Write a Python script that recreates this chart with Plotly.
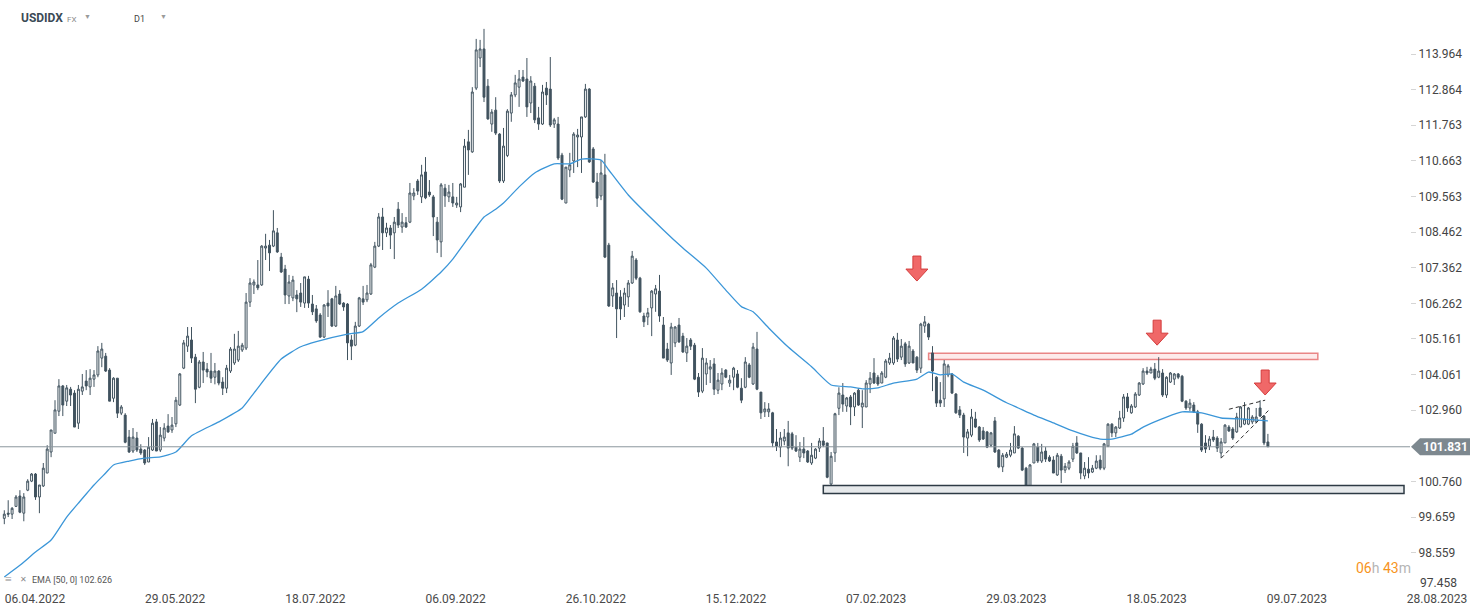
import plotly.graph_objects as go

# ---------------- data ----------------
opens = [
    99.62, 99.78, 99.75, 99.99, 100.31, 99.78, 100.49, 100.77, 100.99, 100.28,
    100.62, 101.02, 101.67, 102.25, 102.93, 103.71, 103.24, 103.61, 103.49, 102.56,
    103.55, 103.86, 103.68, 103.92, 104.05, 104.57, 104.63, 104.20, 103.33, 103.95,
    102.87, 102.81, 102.13, 101.70, 102.10, 101.76, 101.73, 101.36, 101.73, 102.60,
    101.73, 102.10, 102.47, 102.35, 102.54, 103.12, 104.26, 104.94, 105.13, 104.60,
    103.67, 104.45, 104.23, 104.17, 103.98, 104.17, 103.83, 103.64, 104.17, 104.42,
    104.51, 104.82, 104.88, 106.30, 106.83, 106.83, 106.83, 107.97, 108.06, 108.03,
    108.44, 107.69, 107.32, 106.49, 106.43, 106.52, 106.58, 106.27, 107.01, 106.24,
    106.09, 105.90, 105.22, 106.27, 106.40, 105.56, 106.55, 106.27, 106.24, 105.13,
    104.97, 105.56, 106.40, 106.37, 106.55, 107.38, 108.03, 108.93, 108.44, 108.59,
    108.44, 109.17, 108.62, 108.75, 108.77, 109.58, 110.04, 109.55, 110.32, 109.70,
    109.55, 108.77, 108.16, 109.82, 109.55, 109.55, 109.30, 109.24, 109.85, 111.25,
    110.94, 112.91, 113.84, 114.12, 112.97, 111.80, 112.23, 111.49, 110.04, 110.83,
    112.14, 112.70, 112.94, 113.25, 113.19, 112.45, 112.97, 111.99, 111.80, 112.91,
    112.88, 111.80, 111.80, 110.84, 109.36, 110.38, 110.66, 111.40, 111.40, 112.02,
    112.88, 111.03, 110.01, 109.58, 110.23, 108.06, 106.49, 106.58, 106.46, 106.21,
    106.46, 106.89, 107.60, 107.04, 105.87, 105.84, 106.12, 106.55, 106.64, 105.59,
    104.85, 104.42, 105.04, 105.59, 105.25, 104.73, 105.13, 104.97, 103.98, 103.55,
    104.08, 104.23, 104.39, 103.58, 103.77, 104.20, 103.80, 103.98, 104.08, 103.64,
    103.67, 104.36, 103.77, 104.85, 103.52, 102.91, 102.91, 102.88, 101.98, 101.82,
    102.01, 102.26, 102.23, 101.82, 101.51, 101.76, 101.70, 101.33, 101.48, 101.79,
    102.01, 101.95, 100.68, 101.64, 103.02, 103.43, 103.09, 103.37, 103.06, 103.58,
    103.06, 103.06, 103.77, 104.11, 103.98, 103.80, 103.98, 104.42, 104.42, 105.13,
    104.60, 105.01, 104.42, 104.79, 104.60, 104.26, 105.56, 105.62, 104.73, 103.98,
    103.27, 103.31, 104.05, 104.08, 103.46, 102.97, 102.81, 102.10, 102.19, 102.69,
    102.44, 102.32, 102.29, 101.88, 102.63, 101.73, 101.21, 101.51, 101.57, 101.64,
    102.16, 101.79, 101.17, 100.59, 101.33, 101.82, 101.39, 101.70, 101.51, 101.42,
    100.96, 101.54, 101.11, 101.17, 101.45, 101.95, 101.64, 100.93, 101.14, 101.05,
    101.17, 101.42, 101.17, 101.85, 102.53, 102.26, 102.41, 102.72, 103.37, 102.88,
    103.06, 103.43, 103.77, 104.17, 104.11, 104.23, 103.98, 104.11, 103.43, 103.83,
    103.92, 104.08, 104.01, 103.24, 103.03, 103.12, 102.91, 102.53, 101.95, 101.85,
    102.13, 102.10, 101.64, 101.95, 102.44, 102.38, 102.29, 102.44, 102.53, 102.53,
    102.60, 102.60, 103.03, 102.78, 101.98,
]
highs = [
    99.87, 100.18, 99.97, 100.34, 100.49, 100.40, 100.83, 101.02, 101.02, 100.65,
    101.33, 101.88, 102.35, 103.27, 103.92, 103.74, 103.74, 103.68, 103.58, 103.74,
    104.08, 104.20, 104.23, 104.20, 104.94, 105.04, 104.73, 104.26, 103.98, 103.95,
    103.12, 102.87, 102.35, 102.41, 102.29, 101.91, 101.76, 102.13, 102.69, 102.69,
    102.44, 102.56, 102.84, 102.75, 103.37, 104.11, 105.13, 105.53, 105.53, 104.70,
    104.51, 104.76, 104.42, 104.73, 104.42, 104.20, 103.98, 104.36, 104.91, 105.32,
    105.41, 105.04, 106.58, 107.04, 107.00, 107.60, 108.06, 108.41, 108.22, 109.14,
    108.59, 107.82, 107.45, 107.14, 107.11, 106.67, 106.89, 107.08, 107.11, 106.52,
    106.21, 105.96, 106.24, 106.67, 106.43, 106.80, 106.67, 106.30, 106.27, 105.28,
    105.69, 106.46, 106.80, 106.83, 107.51, 108.16, 109.05, 109.21, 108.75, 108.68,
    108.93, 109.39, 109.05, 108.93, 109.98, 109.82, 110.10, 110.54, 110.78, 110.07,
    109.61, 108.93, 109.98, 109.95, 109.92, 109.98, 109.55, 109.98, 111.34, 111.62,
    112.94, 114.43, 114.40, 114.74, 113.19, 112.26, 112.63, 111.52, 111.68, 112.26,
    112.79, 113.32, 113.47, 113.47, 113.84, 113.28, 113.07, 112.33, 113.01, 113.10,
    113.87, 111.99, 112.02, 110.91, 110.47, 110.91, 111.55, 111.65, 112.02, 113.04,
    112.91, 111.09, 110.29, 110.69, 110.88, 108.13, 106.89, 106.98, 106.67, 106.74,
    106.98, 107.88, 107.66, 107.08, 105.97, 106.12, 106.67, 106.83, 107.14, 105.84,
    105.04, 105.66, 105.56, 105.81, 105.35, 105.19, 105.19, 105.04, 104.11, 104.88,
    104.57, 104.51, 104.57, 104.11, 104.26, 104.23, 104.05, 104.30, 104.20, 103.95,
    104.60, 104.42, 105.04, 105.38, 103.52, 103.21, 103.18, 102.91, 102.38, 102.29,
    102.38, 102.63, 102.29, 102.19, 101.98, 102.13, 101.73, 101.95, 101.79, 102.10,
    102.44, 101.95, 101.67, 102.88, 103.67, 103.80, 103.37, 103.43, 103.52, 103.64,
    103.58, 103.89, 104.14, 104.57, 104.05, 104.17, 104.54, 104.73, 105.25, 105.35,
    105.16, 105.07, 105.10, 104.85, 104.63, 105.66, 105.87, 105.66, 104.94, 104.01,
    103.83, 104.51, 104.39, 104.11, 103.49, 103.09, 102.88, 102.38, 103.00, 102.91,
    102.47, 102.44, 102.32, 102.29, 102.75, 101.76, 101.64, 101.67, 101.95, 102.47,
    102.19, 101.82, 101.21, 101.30, 101.95, 101.95, 101.92, 101.82, 101.57, 101.54,
    101.64, 101.61, 101.33, 101.42, 101.95, 102.16, 101.64, 101.36, 101.51, 101.27,
    101.57, 101.57, 101.95, 102.56, 102.56, 102.47, 102.94, 103.46, 103.49, 103.15,
    103.52, 103.83, 104.26, 104.30, 104.30, 104.42, 104.60, 104.23, 104.01, 104.14,
    104.11, 104.11, 104.05, 103.27, 103.31, 103.21, 102.97, 102.56, 102.19, 102.16,
    102.35, 102.16, 102.10, 102.53, 102.50, 102.44, 102.88, 103.09, 103.21, 103.06,
    102.81, 103.03, 103.27, 102.81, 102.23,
]
lows = [
    99.44, 99.66, 99.60, 99.97, 99.78, 99.53, 100.46, 100.74, 100.19, 99.78,
    100.59, 101.02, 101.51, 102.25, 102.78, 102.78, 103.09, 103.09, 102.44, 102.38,
    103.43, 103.58, 103.43, 103.68, 103.98, 104.29, 104.14, 103.24, 103.21, 102.72,
    102.81, 101.94, 101.64, 101.64, 101.67, 101.58, 101.27, 101.36, 101.70, 101.70,
    101.67, 102.00, 102.26, 102.26, 102.44, 103.09, 104.23, 104.76, 104.42, 103.18,
    103.64, 103.80, 103.98, 103.80, 103.76, 103.73, 103.43, 103.49, 104.11, 104.36,
    104.45, 104.76, 104.82, 106.15, 106.55, 106.67, 106.80, 107.60, 107.26, 108.00,
    107.82, 107.20, 106.24, 106.24, 106.33, 105.99, 106.15, 106.12, 106.12, 105.90,
    105.66, 105.19, 105.19, 105.84, 105.53, 105.53, 106.21, 106.03, 104.51, 104.51,
    104.94, 105.53, 106.21, 106.30, 106.52, 107.35, 108.00, 107.91, 108.31, 107.94,
    107.63, 108.59, 108.44, 108.59, 108.74, 109.45, 109.61, 109.36, 109.48, 109.55,
    108.34, 107.82, 107.69, 109.24, 109.39, 109.24, 109.21, 109.08, 109.85, 110.23,
    110.91, 112.85, 113.56, 112.48, 111.93, 111.56, 111.46, 109.98, 109.98, 110.78,
    111.87, 112.63, 112.33, 113.10, 112.02, 112.14, 111.83, 111.62, 111.77, 112.39,
    111.71, 111.68, 110.69, 109.45, 109.36, 110.16, 110.29, 110.47, 110.29, 111.99,
    110.60, 109.98, 109.24, 109.45, 107.66, 106.15, 106.15, 105.19, 105.75, 105.84,
    106.15, 106.86, 106.98, 105.97, 105.53, 105.59, 105.25, 106.00, 105.69, 104.57,
    104.45, 104.05, 104.91, 105.04, 104.73, 104.45, 104.82, 103.89, 103.37, 103.49,
    103.74, 103.80, 103.43, 103.46, 103.58, 103.95, 103.68, 103.58, 103.64, 103.18,
    103.64, 103.95, 103.74, 103.58, 102.69, 102.75, 102.75, 101.82, 101.70, 101.51,
    101.88, 101.23, 101.73, 101.67, 101.36, 101.48, 101.33, 101.27, 101.45, 101.67,
    101.82, 100.86, 100.65, 101.36, 102.81, 102.91, 102.91, 102.50, 102.78, 103.09,
    102.41, 103.06, 103.49, 103.77, 103.71, 103.80, 103.95, 104.36, 104.36, 104.45,
    104.51, 104.30, 104.39, 104.42, 104.11, 104.11, 105.35, 105.13, 103.55, 103.06,
    103.06, 103.06, 103.98, 103.46, 102.85, 102.72, 101.64, 101.54, 102.13, 102.41,
    101.98, 102.04, 101.79, 101.82, 101.64, 101.17, 101.05, 101.48, 101.51, 101.64,
    101.76, 101.08, 100.43, 100.43, 101.33, 101.33, 101.33, 101.36, 101.36, 101.02,
    100.93, 100.71, 101.02, 101.11, 101.36, 101.61, 100.83, 100.83, 100.86, 101.02,
    101.14, 101.11, 101.11, 101.82, 102.13, 102.13, 102.38, 102.60, 102.91, 102.85,
    103.03, 103.40, 103.74, 104.05, 104.11, 103.89, 103.95, 103.37, 103.34, 103.80,
    103.74, 103.92, 103.21, 102.97, 102.94, 102.88, 102.26, 101.67, 101.64, 101.73,
    101.98, 101.67, 101.48, 101.95, 102.29, 102.04, 102.26, 102.44, 102.50, 102.50,
    102.53, 102.56, 102.75, 101.88, 101.83,
]
closes = [
    99.75, 99.75, 99.93, 100.28, 99.81, 100.28, 100.77, 100.99, 100.28, 100.65,
    101.17, 101.76, 102.35, 102.97, 103.71, 103.12, 103.65, 103.43, 102.44, 103.61,
    103.68, 103.71, 103.95, 104.05, 104.79, 104.85, 104.17, 103.24, 103.95, 102.87,
    103.06, 101.97, 101.67, 102.13, 101.73, 101.64, 101.33, 101.82, 102.56, 101.70,
    102.19, 102.41, 102.29, 102.50, 103.27, 104.08, 105.04, 105.25, 104.57, 103.61,
    104.45, 104.20, 104.14, 103.95, 104.17, 103.80, 103.64, 104.26, 104.85, 104.85,
    104.94, 104.97, 106.30, 106.89, 106.92, 106.74, 108.03, 108.03, 107.82, 108.50,
    107.85, 107.23, 106.52, 106.92, 106.98, 106.40, 106.30, 107.08, 106.27, 106.00,
    105.72, 105.22, 106.21, 106.18, 105.56, 106.49, 106.24, 106.15, 105.04, 104.94,
    105.56, 106.43, 106.30, 106.58, 107.45, 108.03, 108.93, 108.44, 108.59, 108.37,
    108.77, 108.68, 108.77, 108.62, 109.67, 109.67, 109.73, 110.23, 109.52, 109.61,
    108.93, 108.22, 109.92, 109.58, 109.70, 109.36, 109.36, 109.95, 111.12, 111.00,
    112.79, 114.09, 114.12, 112.63, 111.96, 112.17, 111.52, 110.04, 111.12, 112.20,
    112.70, 113.07, 113.19, 113.13, 112.33, 113.13, 111.93, 111.80, 112.79, 112.70,
    111.77, 111.93, 110.75, 109.48, 110.47, 110.54, 111.49, 111.46, 112.02, 112.88,
    110.63, 110.01, 109.51, 110.29, 107.69, 106.18, 106.74, 106.09, 106.09, 106.58,
    106.89, 107.72, 107.04, 106.00, 105.69, 105.97, 106.64, 106.71, 105.87, 104.57,
    104.51, 105.53, 105.53, 105.07, 104.76, 104.94, 104.94, 103.92, 103.52, 104.57,
    104.42, 104.30, 103.61, 103.89, 104.11, 103.98, 103.89, 104.26, 103.67, 103.27,
    104.45, 103.98, 104.91, 103.61, 102.88, 103.00, 103.00, 101.95, 101.85, 102.10,
    102.13, 101.79, 101.79, 101.70, 101.76, 101.64, 101.36, 101.57, 101.76, 102.01,
    101.88, 100.89, 101.54, 102.85, 103.49, 103.15, 103.34, 103.06, 103.49, 103.12,
    103.18, 103.80, 103.95, 103.80, 103.77, 104.11, 104.48, 104.57, 105.19, 104.54,
    104.94, 104.39, 104.94, 104.42, 104.20, 105.62, 105.69, 105.22, 104.17, 103.18,
    103.18, 104.39, 104.33, 103.49, 102.88, 102.81, 102.13, 102.29, 102.75, 102.44,
    102.04, 102.07, 101.82, 102.26, 101.67, 101.21, 101.57, 101.60, 101.73, 102.23,
    101.79, 101.11, 100.59, 101.27, 101.92, 101.39, 101.67, 101.45, 101.39, 101.02,
    101.57, 101.11, 101.23, 101.36, 101.85, 101.64, 101.02, 101.17, 101.02, 101.17,
    101.39, 101.17, 101.92, 102.53, 102.26, 102.44, 102.72, 103.37, 103.03, 103.09,
    103.46, 103.80, 104.17, 104.11, 104.23, 103.95, 104.17, 103.43, 103.98, 104.11,
    104.08, 103.98, 103.24, 103.03, 103.18, 102.91, 102.53, 101.73, 101.76, 102.07,
    102.04, 101.79, 101.98, 102.50, 102.32, 102.10, 102.75, 103.06, 102.69, 103.03,
    102.75, 102.75, 102.78, 101.95, 101.831,
]
bar_index = list(range(len(closes)))

# EMA(50) line as drawn in the reference (bar index, value)
ema_index = [0, 4, 8, 12, 16, 19, 23, 26, 28, 32, 36, 40, 44, 48, 55, 61, 64, 71, 76, 80,
             88, 92, 96, 101, 107, 112, 115, 121, 123, 126, 128, 132, 136, 141, 145, 148,
             153, 155, 160, 169, 174, 180, 185, 189, 192, 196, 201, 207, 212, 217, 220,
             224, 228, 234, 237, 240, 243, 246, 251, 257, 260, 264, 269, 274, 278, 281,
             284, 289, 292, 298, 302, 307, 312, 317, 324]
ema_values = [97.81, 98.17, 98.58, 98.95, 99.66, 100.09, 100.65, 101.02, 101.27, 101.39,
              101.48, 101.52, 101.67, 102.17, 102.60, 103.03, 103.49, 104.54, 104.92, 105.08,
              105.31, 105.39, 105.81, 106.27, 106.70, 107.23, 107.63, 108.62, 108.93, 109.17,
              109.36, 109.86, 110.29, 110.57, 110.57, 110.72, 110.69, 110.38, 109.61, 108.53,
              107.97, 107.35, 106.67, 106.16, 106.00, 105.50, 104.91, 104.30, 103.74, 103.68,
              103.62, 103.65, 103.80, 103.92, 104.14, 104.05, 104.08, 103.83, 103.58, 103.19,
              103.03, 102.81, 102.57, 102.32, 102.16, 102.07, 102.07, 102.22, 102.44, 102.75,
              102.91, 102.88, 102.72, 102.69, 102.63]
ema_last = 102.626
last_price = 101.831

x_tick_labels = ["06.04.2022", "29.05.2022", "18.07.2022", "06.09.2022", "26.10.2022",
                 "15.12.2022", "07.02.2023", "29.03.2023", "18.05.2023", "09.07.2023",
                 "28.08.2023"]
y_tick_values = [98.559, 99.659, 100.760, 102.960, 104.061, 105.161, 106.262,
                 107.362, 108.462, 109.563, 110.663, 111.763, 112.864, 113.964]
y_bottom_label = 97.458

support_zone = (100.39, 100.635, 210, 358.9)       # low, high, from bar, to bar
resistance_zone = (104.53, 104.72, 237, 336.8)
wedge_upper = ((314, 102.99), (323.3, 103.27))
wedge_lower = ((312, 101.48), (324.3, 102.97))
arrow_points = [(234.0, 106.95), (295.6, 104.97), (323.3, 103.43)]

# ---------------- figure ----------------
CANDLE = "#41535f"
FONT = "Roboto"
W, H = 1482, 614
PLOT_H = 590
PLOT_RIGHT = 1410 / W

fig = go.Figure()
fig.add_trace(go.Candlestick(
    x=bar_index, open=opens, high=highs, low=lows, close=closes,
    increasing=dict(line=dict(color=CANDLE, width=1), fillcolor="#ffffff"),
    decreasing=dict(line=dict(color=CANDLE, width=1), fillcolor=CANDLE),
    whiskerwidth=0, showlegend=False, hoverinfo="skip",
))
fig.add_trace(go.Scatter(
    x=ema_index, y=ema_values, mode="lines",
    line=dict(color="#3b96d8", width=1.3, shape="spline", smoothing=0.5),
    showlegend=False, hoverinfo="skip",
))

shapes = []
shapes.append(dict(type="rect", xref="x", yref="y", x0=support_zone[2], x1=support_zone[3],
                   y0=support_zone[0], y1=support_zone[1],
                   fillcolor="#e6e9eb", line=dict(color="#2d3a44", width=1.5), layer="above"))
shapes.append(dict(type="rect", xref="x", yref="y", x0=resistance_zone[2], x1=resistance_zone[3],
                   y0=resistance_zone[0], y1=resistance_zone[1],
                   fillcolor="#fdeaea", line=dict(color="#e98585", width=1.5), layer="below"))
shapes.append(dict(type="line", xref="paper", yref="y", x0=0, x1=PLOT_RIGHT,
                   y0=last_price, y1=last_price, line=dict(color="#8c979d", width=1)))
for (a, b) in (wedge_upper, wedge_lower):
    shapes.append(dict(type="line", xref="x", yref="y", x0=a[0], y0=a[1], x1=b[0], y1=b[1],
                       line=dict(color="#2f2f2f", width=1, dash="4px,3px")))
arrow_path = "M 0 0 L 11 12 L 4 12 L 4 25 L -4 25 L -4 12 L -11 12 Z"
for (ax, ay) in arrow_points:
    shapes.append(dict(type="path", xref="x", yref="y", xsizemode="pixel", ysizemode="pixel",
                       xanchor=ax, yanchor=ay, path=arrow_path,
                       fillcolor="#f06868", line=dict(color="#d43c3c", width=1)))
shapes.append(dict(type="path", xref="paper", yref="y", xsizemode="pixel", ysizemode="pixel",
                   xanchor=PLOT_RIGHT, yanchor=last_price,
                   path="M 1 0 L 10 8.5 L 60 8.5 L 60 -8.5 L 10 -8.5 Z",
                   fillcolor="#7d888f", line=dict(width=0)))

def px_x(px):
    return px / W
def px_y(py):
    return 1 - py / PLOT_H

annotations = [
    dict(xref="paper", yref="y", x=px_x(1445), y=last_price,
         text=f"<b>{last_price:.3f}</b>", showarrow=False,
         font=dict(family=FONT, size=12, color="#ffffff"),
         xanchor="center", yanchor="middle"),
    dict(xref="paper", yref="paper", x=px_x(1418), y=px_y(583), text=f"{y_bottom_label:.3f}",
         font=dict(family=FONT, size=12, color="#444444"), xanchor="left", yanchor="middle", showarrow=False),
    dict(xref="paper", yref="paper", x=px_x(19), y=px_y(18), text="<b>USDIDX</b>",
         font=dict(family=FONT, size=12, color="#3b4a56"), xanchor="left", yanchor="middle", showarrow=False),
    dict(xref="paper", yref="paper", x=px_x(65), y=px_y(19), text="FX",
         font=dict(family=FONT, size=8, color="#8a8a8a"), xanchor="left", yanchor="middle", showarrow=False),
    dict(xref="paper", yref="paper", x=px_x(87), y=px_y(17), text="▼",
         font=dict(family=FONT, size=7, color="#9a9a9a"), xanchor="center", yanchor="middle", showarrow=False),
    dict(xref="paper", yref="paper", x=px_x(132), y=px_y(19), text="D1",
         font=dict(family=FONT, size=9, color="#444444"), xanchor="left", yanchor="middle", showarrow=False),
    dict(xref="paper", yref="paper", x=px_x(163), y=px_y(17), text="▼",
         font=dict(family=FONT, size=7, color="#9a9a9a"), xanchor="center", yanchor="middle", showarrow=False),
    dict(xref="paper", yref="paper", x=px_x(3), y=px_y(579), text="≡",
         font=dict(family=FONT, size=12, color="#8a8a8a"), xanchor="left", yanchor="middle", showarrow=False),
    dict(xref="paper", yref="paper", x=px_x(18), y=px_y(579), text="✕",
         font=dict(family=FONT, size=8, color="#8a8a8a"), xanchor="left", yanchor="middle", showarrow=False),
    dict(xref="paper", yref="paper", x=px_x(30), y=px_y(580), text=f"EMA [50, 0] {ema_last:.3f}",
         font=dict(family=FONT, size=9, color="#555555"), xanchor="left", yanchor="middle", showarrow=False),
    dict(xref="paper", yref="paper", x=px_x(1354), y=px_y(568),
         text="<span style='color:#f7941d'>06</span><span style='color:#b5b5b5'>h</span> "
              "<span style='color:#f7941d'>43</span><span style='color:#b5b5b5'>m</span>",
         font=dict(family=FONT, size=14), xanchor="left", yanchor="middle", showarrow=False),
]

px_per_bar = 3.9
first_bar_px = 4.3
tick_start = (35 - first_bar_px) / px_per_bar
tick_step = 140.2 / px_per_bar
x_tick_vals = [tick_start + k * tick_step for k in range(len(x_tick_labels))]
x_min = -first_bar_px / px_per_bar
x_max = (W - first_bar_px) / px_per_bar

y_top = 113.964 + 54 * 0.03089
y_bottom = y_top - PLOT_H * 0.03089

fig.update_layout(
    width=W, height=H,
    margin=dict(l=0, r=0, t=0, b=H - PLOT_H),
    paper_bgcolor="#ffffff", plot_bgcolor="#ffffff",
    shapes=shapes, annotations=annotations,
    hovermode=False,
    xaxis=dict(domain=[0, 1], range=[x_min, x_max], rangeslider=dict(visible=False),
               tickmode="array", tickvals=x_tick_vals, ticktext=x_tick_labels,
               showgrid=False, zeroline=False, showline=False, ticks="",
               tickfont=dict(family=FONT, size=12, color="#4a4a4a"), fixedrange=True),
    yaxis=dict(range=[y_bottom, y_top], side="right", anchor="free", position=PLOT_RIGHT,
               tickmode="array", tickvals=y_tick_values,
               ticktext=[f"{v:.3f}" for v in y_tick_values],
               showgrid=False, zeroline=False, showline=False,
               ticks="outside", ticklen=5, tickcolor="#d5d5d5",
               tickfont=dict(family=FONT, size=12, color="#444444"), fixedrange=True),
)

fig.write_html("out.html", config={"displayModeBar": False},
               post_script="document.body.style.margin='0';document.body.style.overflow='hidden';")
